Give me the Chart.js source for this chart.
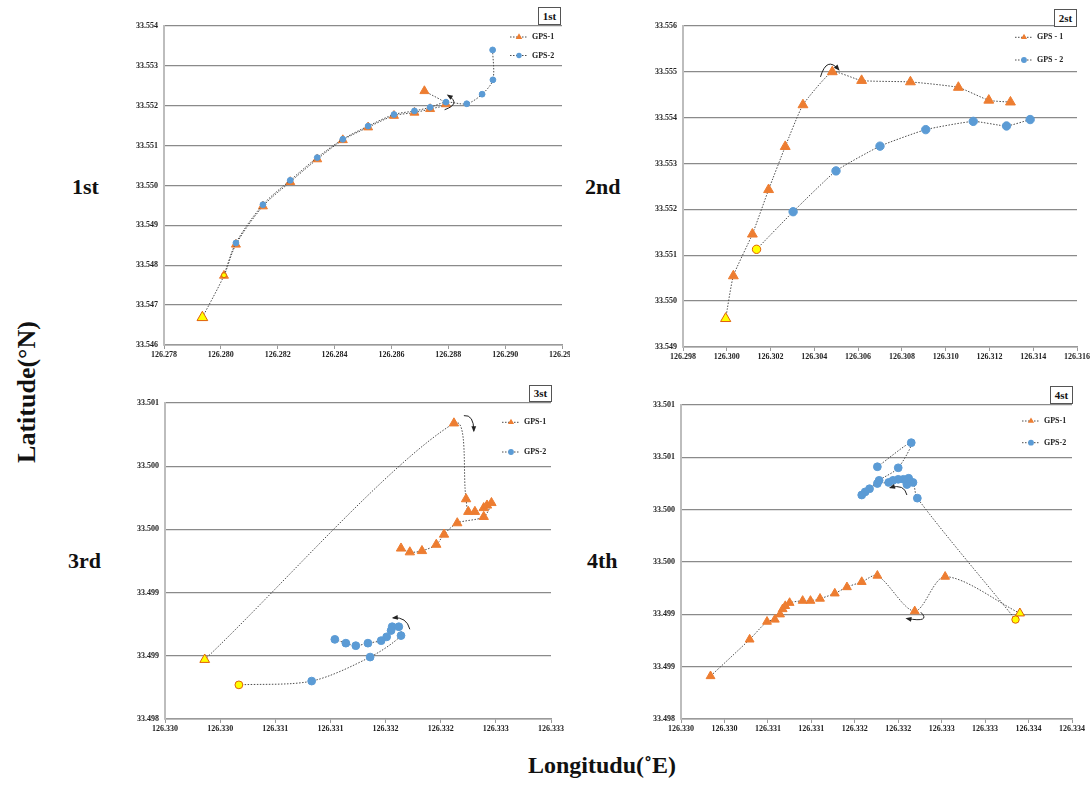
<!DOCTYPE html>
<html>
<head>
<meta charset="utf-8">
<script src="https://cdn.jsdelivr.net/npm/chart.js@4.4.1/dist/chart.umd.min.js"></script>
<style>
  html, body { margin: 0; padding: 0; background: #ffffff; }
  body { width: 1091px; height: 787px; position: relative; overflow: hidden;
         font-family: 'Liberation Serif', 'Times New Roman', serif; color: #111; }
  canvas.panel { position: absolute; }
  .row { position: absolute; font-weight: bold; font-size: 22px; line-height: 22px; white-space: nowrap; }
  .tag { position: absolute; border: 1px solid #555; box-sizing: border-box; font-weight: bold;
         font-size: 11px; text-align: center; background: #fff; }
  .axis-title { position: absolute; font-weight: bold; white-space: nowrap; }
</style>
</head>
<body>
<canvas id="c1" class="panel"></canvas>
<canvas id="c2" class="panel"></canvas>
<canvas id="c3" class="panel"></canvas>
<canvas id="c4" class="panel"></canvas>

<div class="row" style="left:72px; top:176px;">1st</div>
<div class="row" style="left:585px; top:176px;">2nd</div>
<div class="row" style="left:68px; top:550px;">3rd</div>
<div class="row" style="left:587px; top:550px;">4th</div>

<div class="tag" style="left:538px; top:7px; width:23px; height:18px; line-height:16px;">1st</div>
<div class="tag" style="left:1054px; top:9px; width:23px; height:18px; line-height:16px;">2st</div>
<div class="tag" style="left:529px; top:385px; width:23px; height:17px; line-height:15px;">3st</div>
<div class="tag" style="left:1050px; top:386px; width:23px; height:18px; line-height:16px;">4st</div>

<div class="axis-title" style="left:27px; top:392px; font-size:26px; transform: translate(-50%,-50%) rotate(-90deg);">Latitude(°N)</div>
<div class="axis-title" style="left:602px; top:765px; font-size:24px; transform: translate(-50%,-50%);">Longitudu(˚E)</div>

<script>
// ---------- Panel 1 ----------
const p1LonTicks = [126.278, 126.280, 126.282, 126.284, 126.286, 126.288, 126.290, 126.292];
const p1LonLabels = ['126.278', '126.280', '126.282', '126.284', '126.286', '126.288', '126.290', '126.292'];
const p1LatTicks = [33.546, 33.547, 33.548, 33.549, 33.550, 33.551, 33.552, 33.553, 33.554];
const p1LatLabels = ['33.546', '33.547', '33.548', '33.549', '33.550', '33.551', '33.552', '33.553', '33.554'];
const p1Gps1Lon = [126.27935, 126.28011, 126.28053, 126.28148, 126.28244, 126.28339, 126.28429, 126.28518, 126.28609, 126.28681, 126.28736, 126.28792, 126.28716];
const p1Gps1Lat = [33.54669, 33.54774, 33.54852, 33.54948, 33.55009, 33.55066, 33.55114, 33.55146, 33.55175, 33.55183, 33.55192, 33.55204, 33.55237];
const p1Gps2Lon = [126.28011, 126.28053, 126.28148, 126.28244, 126.28339, 126.28429, 126.28518, 126.28609, 126.28681, 126.28736, 126.28792, 126.28865, 126.28919, 126.28957, 126.28956];
const p1Gps2Lat = [33.54775, 33.54856, 33.54952, 33.55013, 33.55070, 33.55116, 33.55149, 33.55178, 33.55187, 33.55196, 33.55209, 33.55205, 33.55229, 33.55265, 33.55340];
const p1Arrows = [[[126.28787, 33.55190], [126.28846, 33.55205], [126.28799, 33.55226]]];

// ---------- Panel 2 ----------
const p2LonTicks = [126.298, 126.300, 126.302, 126.304, 126.306, 126.308, 126.310, 126.312, 126.314, 126.316];
const p2LonLabels = ['126.298', '126.300', '126.302', '126.304', '126.306', '126.308', '126.310', '126.312', '126.314', '126.316'];
const p2LatTicks = [33.549, 33.550, 33.551, 33.552, 33.553, 33.554, 33.555, 33.556];
const p2LatLabels = ['33.549', '33.550', '33.551', '33.552', '33.553', '33.554', '33.555', '33.556'];
const p2Gps1Lon = [126.29995, 126.30030, 126.30117, 126.30191, 126.30267, 126.30348, 126.30482, 126.30616, 126.30839, 126.31058, 126.31197, 126.31296];
const p2Gps1Lat = [33.54962, 33.55055, 33.55146, 33.55243, 33.55337, 33.55428, 33.55500, 33.55481, 33.55478, 33.55466, 33.55438, 33.55434];
const p2Gps2Lon = [126.30136, 126.30303, 126.30499, 126.30700, 126.30909, 126.31126, 126.31278, 126.31386];
const p2Gps2Lat = [33.55113, 33.55195, 33.55284, 33.55338, 33.55374, 33.55392, 33.55382, 33.55396];
const p2Arrows = [[[126.30428, 33.55489], [126.30457, 33.55535], [126.30511, 33.55505]]];

// ---------- Panel 3 ----------
const p3LonTicks = [126.3295, 126.3300, 126.3305, 126.3310, 126.3315, 126.3320, 126.3325, 126.3330];
const p3LonLabels = ['126.330', '126.330', '126.331', '126.331', '126.332', '126.332', '126.333', '126.333'];
const p3LatTicks = [33.4980, 33.4985, 33.4990, 33.4995, 33.5000, 33.5005];
const p3LatLabels = ['33.498', '33.499', '33.499', '33.500', '33.500', '33.501'];
const p3Gps1Lon = [126.32986, 126.33212, 126.33223, 126.33225, 126.33231, 126.33239, 126.33242, 126.33246, 126.33239, 126.33215, 126.33203, 126.33196, 126.33183, 126.33172, 126.33164];
const p3Gps1Lat = [33.49847, 33.50034, 33.49974, 33.49964, 33.49964, 33.49967, 33.49969, 33.49971, 33.49960, 33.49955, 33.49946, 33.49938, 33.49933, 33.49932, 33.49935];
const p3Gps2Lon = [126.33017, 126.33083, 126.33136, 126.33164, 126.33162, 126.33156, 126.33155, 126.33151, 126.33146, 126.33134, 126.33123, 126.33114, 126.33104];
const p3Gps2Lat = [33.49827, 33.49830, 33.49849, 33.49866, 33.49873, 33.49873, 33.49870, 33.49865, 33.49862, 33.49860, 33.49858, 33.49860, 33.49863];
const p3Arrows = [
  [[126.33221, 33.50040], [126.33230, 33.50041], [126.33230, 33.50028]],
  [[126.33172, 33.49871], [126.33169, 33.49881], [126.33157, 33.49880]]
];

// ---------- Panel 4 ----------
const p4LonTicks = [126.3295, 126.3300, 126.3305, 126.3310, 126.3315, 126.3320, 126.3325, 126.3330, 126.3335, 126.3340];
const p4LonLabels = ['126.330', '126.330', '126.331', '126.331', '126.332', '126.332', '126.333', '126.333', '126.334', '126.334'];
const p4LatTicks = [33.4980, 33.4985, 33.4990, 33.4995, 33.5000, 33.5005, 33.5010];
const p4LatLabels = ['33.498', '33.499', '33.499', '33.500', '33.500', '33.501', '33.501'];
const p4Gps1Lon = [126.33340, 126.33254, 126.33219, 126.33176, 126.33158, 126.33141, 126.33127, 126.33110, 126.33099, 126.33090, 126.33075, 126.33070, 126.33067, 126.33064, 126.33058, 126.33049, 126.33029, 126.32984];
const p4Gps1Lat = [33.49901, 33.49936, 33.49903, 33.49937, 33.49931, 33.49926, 33.49920, 33.49915, 33.49913, 33.49913, 33.49911, 33.49908, 33.49905, 33.49900, 33.49895, 33.49893, 33.49876, 33.49841];
const p4Gps2Lon = [126.33335, 126.33222, 126.33217, 126.33210, 126.33212, 126.33206, 126.33200, 126.33194, 126.33189, 126.33176, 126.33167, 126.33162, 126.33158, 126.33178, 126.33200, 126.33215, 126.33176];
const p4Gps2Lat = [33.49895, 33.50011, 33.50026, 33.50024, 33.50030, 33.50029, 33.50029, 33.50028, 33.50026, 33.50025, 33.50020, 33.50017, 33.50014, 33.50028, 33.50040, 33.50064, 33.50041];
const p4Arrows = [
  [[126.33210, 33.50014], [126.33207, 33.50025], [126.33191, 33.50021]],
  [[126.33226, 33.49902], [126.33238, 33.49892], [126.33210, 33.49896]]
];

const FONT = "'Liberation Serif', 'Times New Roman', serif";
const ORANGE = '#ED7D31';
const BLUE = '#5B9BD5';
const START_FILL = '#FFFF00';
const START_EDGE = '#E0600A';
const TRACK = '#4d4d4d';

function pointsOf(lon, lat) {
  return lon.map((x, i) => ({ x: x, y: lat[i] }));
}

// Legend drawn inside the plot, top-right, with dotted line + marker + label
const insideLegend = {
  id: 'insideLegend',
  afterDraw(chart, args, opts) {
    if (!opts || opts.x === undefined) return;
    const ctx = chart.ctx;
    ctx.save();
    chart.data.datasets.forEach((ds, i) => {
      const y = opts.y + i * opts.gap;
      const x0 = opts.x;
      ctx.strokeStyle = TRACK;
      ctx.lineWidth = 1;
      ctx.setLineDash([1.5, 1.5]);
      ctx.beginPath();
      ctx.moveTo(x0, y);
      ctx.lineTo(x0 + 18, y);
      ctx.stroke();
      ctx.setLineDash([]);
      const mx = x0 + 9;
      ctx.fillStyle = ds.legendColor;
      ctx.beginPath();
      if (ds.pointStyle === 'triangle') {
        const r = opts.triR;
        ctx.moveTo(mx, y - r);
        ctx.lineTo(mx + r * 0.866, y + r * 0.5);
        ctx.lineTo(mx - r * 0.866, y + r * 0.5);
        ctx.closePath();
      } else {
        ctx.arc(mx, y, opts.circR, 0, Math.PI * 2);
      }
      ctx.fill();
      ctx.fillStyle = '#222';
      ctx.font = 'bold 8px ' + FONT;
      ctx.textBaseline = 'middle';
      ctx.textAlign = 'left';
      ctx.fillText(ds.label, x0 + 22, y);
    });
    ctx.restore();
  }
};

// Small curved direction arrows, given in lon/lat and placed through the scales
const turnArrows = {
  id: 'turnArrows',
  afterDatasetsDraw(chart, args, opts) {
    if (!opts || !opts.list) return;
    const sx = chart.scales.x, sy = chart.scales.y;
    const ctx = chart.ctx;
    ctx.save();
    ctx.strokeStyle = '#222';
    ctx.fillStyle = '#222';
    ctx.lineWidth = 1;
    opts.list.forEach(a => {
      const p = a.map(q => [sx.getPixelForValue(q[0]), sy.getPixelForValue(q[1])]);
      ctx.beginPath();
      ctx.moveTo(p[0][0], p[0][1]);
      ctx.quadraticCurveTo(p[1][0], p[1][1], p[2][0], p[2][1]);
      ctx.stroke();
      const ang = Math.atan2(p[2][1] - p[1][1], p[2][0] - p[1][0]);
      const L = 4.5, W = 2.4;
      const ex = p[2][0], ey = p[2][1];
      ctx.beginPath();
      ctx.moveTo(ex + Math.cos(ang) * 1.5, ey + Math.sin(ang) * 1.5);
      ctx.lineTo(ex - Math.cos(ang) * L - Math.sin(ang) * W, ey - Math.sin(ang) * L + Math.cos(ang) * W);
      ctx.lineTo(ex - Math.cos(ang) * L + Math.sin(ang) * W, ey - Math.sin(ang) * L - Math.cos(ang) * W);
      ctx.closePath();
      ctx.fill();
    });
    ctx.restore();
  }
};

function makePanel(p) {
  const cv = document.getElementById(p.id);
  cv.style.left = p.box.left + 'px';
  cv.style.top = p.box.top + 'px';
  cv.width = p.box.w;
  cv.height = p.box.h;
  cv.style.width = p.box.w + 'px';
  cv.style.height = p.box.h + 'px';

  const yW = p.plot.left - p.box.left;
  const xH = p.box.top + p.box.h - p.plot.bottom;
  const padTop = p.plot.top - p.box.top;
  const padRight = p.box.left + p.box.w - p.plot.right;

  const mk = (lon, lat, color, r0, r, edge) => ({
    bg: lon.map((_, i) => i === 0 ? START_FILL : color),
    bd: lon.map((_, i) => i === 0 ? edge : color),
    rad: lon.map((_, i) => i === 0 ? r0 : r)
  });
  const s1 = mk(p.g1lon, p.g1lat, ORANGE, p.triStart, p.tri, START_EDGE);
  const s2 = mk(p.g2lon, p.g2lat, BLUE, p.circStart, p.circ, START_EDGE);

  new Chart(cv, {
    type: 'scatter',
    data: {
      datasets: [
        {
          label: p.names[0],
          data: pointsOf(p.g1lon, p.g1lat),
          showLine: true,
          tension: p.tension,
          borderColor: TRACK,
          borderWidth: 1,
          borderDash: [1.5, 1.5],
          pointStyle: 'triangle',
          pointRadius: s1.rad,
          pointBackgroundColor: s1.bg,
          pointBorderColor: s1.bd,
          pointBorderWidth: 1,
          legendColor: ORANGE,
          order: 2
        },
        {
          label: p.names[1],
          data: pointsOf(p.g2lon, p.g2lat),
          showLine: true,
          tension: p.tension,
          borderColor: TRACK,
          borderWidth: 1,
          borderDash: [1.5, 1.5],
          pointStyle: 'circle',
          pointRadius: s2.rad,
          pointBackgroundColor: s2.bg,
          pointBorderColor: s2.bd,
          pointBorderWidth: 1,
          legendColor: BLUE,
          order: 1
        }
      ]
    },
    options: {
      responsive: false,
      animation: false,
      events: [],
      layout: { padding: { left: 0, right: padRight, top: padTop, bottom: 0 } },
      plugins: {
        legend: { display: false },
        tooltip: { enabled: false },
        insideLegend: p.legend,
        turnArrows: { list: p.arrows }
      },
      scales: {
        x: {
          type: 'linear',
          min: p.xt[0],
          max: p.xt[p.xt.length - 1],
          afterBuildTicks: s => { s.ticks = p.xt.map(v => ({ value: v })); },
          afterFit: s => { s.height = xH; s.paddingLeft = 0; s.paddingRight = 0; },
          ticks: {
            autoSkip: false, maxRotation: 0, padding: 1, color: '#222',
            font: { family: FONT, size: 8, weight: 'bold' },
            callback: (v, i) => p.xl[i]
          },
          grid: { display: true, drawOnChartArea: false, drawTicks: true, tickLength: 4, color: '#9a9a9a', lineWidth: 1 },
          border: { display: true, color: '#9a9a9a', width: 1.5 }
        },
        y: {
          type: 'linear',
          min: p.yt[0],
          max: p.yt[p.yt.length - 1],
          afterBuildTicks: s => { s.ticks = p.yt.map(v => ({ value: v })); },
          afterFit: s => { s.width = yW; s.paddingTop = 0; s.paddingBottom = 0; },
          ticks: {
            autoSkip: false, padding: 6, color: '#222',
            font: { family: FONT, size: 8, weight: 'bold' },
            callback: (v, i) => p.yl[i]
          },
          grid: { color: '#8a8a8a', lineWidth: 1.3, drawTicks: false },
          border: { display: true, color: '#bdbdbd', width: 2 }
        }
      }
    },
    plugins: [insideLegend, turnArrows]
  });
}

makePanel({
  id: 'c1', box: { left: 110, top: 4, w: 460, h: 362 },
  plot: { left: 164, top: 26, right: 562, bottom: 345 },
  xt: p1LonTicks, xl: p1LonLabels, yt: p1LatTicks, yl: p1LatLabels,
  g1lon: p1Gps1Lon, g1lat: p1Gps1Lat, g2lon: p1Gps2Lon, g2lat: p1Gps2Lat,
  names: ['GPS-1', 'GPS-2'], tension: 0.3,
  tri: 5.2, triStart: 6.2, circ: 2.9, circStart: 2.5,
  legend: { x: 400, y: 33, gap: 18.5, triR: 3.8, circR: 2.7 },
  arrows: p1Arrows
});

makePanel({
  id: 'c2', box: { left: 630, top: 4, w: 461, h: 362 },
  plot: { left: 683, top: 26, right: 1077, bottom: 347 },
  xt: p2LonTicks, xl: p2LonLabels, yt: p2LatTicks, yl: p2LatLabels,
  g1lon: p2Gps1Lon, g1lat: p2Gps1Lat, g2lon: p2Gps2Lon, g2lat: p2Gps2Lat,
  names: ['GPS - 1', 'GPS - 2'], tension: 0.15,
  tri: 5.7, triStart: 5.9, circ: 4.2, circStart: 4.2,
  legend: { x: 385, y: 33.3, gap: 22.7, triR: 3.6, circR: 2.9 },
  arrows: p2Arrows
});

makePanel({
  id: 'c3', box: { left: 110, top: 380, w: 460, h: 362 },
  plot: { left: 165, top: 403, right: 551, bottom: 719 },
  xt: p3LonTicks, xl: p3LonLabels, yt: p3LatTicks, yl: p3LatLabels,
  g1lon: p3Gps1Lon, g1lat: p3Gps1Lat, g2lon: p3Gps2Lon, g2lat: p3Gps2Lat,
  names: ['GPS-1', 'GPS-2'], tension: 0.3,
  tri: 5.4, triStart: 5.6, circ: 3.9, circStart: 3.9,
  legend: { x: 392, y: 42.3, gap: 29.7, triR: 3.6, circR: 2.9 },
  arrows: p3Arrows
});

makePanel({
  id: 'c4', box: { left: 630, top: 380, w: 461, h: 362 },
  plot: { left: 681, top: 405, right: 1072, bottom: 719 },
  xt: p4LonTicks, xl: p4LonLabels, yt: p4LatTicks, yl: p4LatLabels,
  g1lon: p4Gps1Lon, g1lat: p4Gps1Lat, g2lon: p4Gps2Lon, g2lat: p4Gps2Lat,
  names: ['GPS-1', 'GPS-2'], tension: 0.3,
  tri: 5.1, triStart: 5.3, circ: 3.9, circStart: 3.7,
  legend: { x: 392, y: 41, gap: 21.7, triR: 3.6, circR: 2.9 },
  arrows: p4Arrows
});
</script>
</body>
</html>
